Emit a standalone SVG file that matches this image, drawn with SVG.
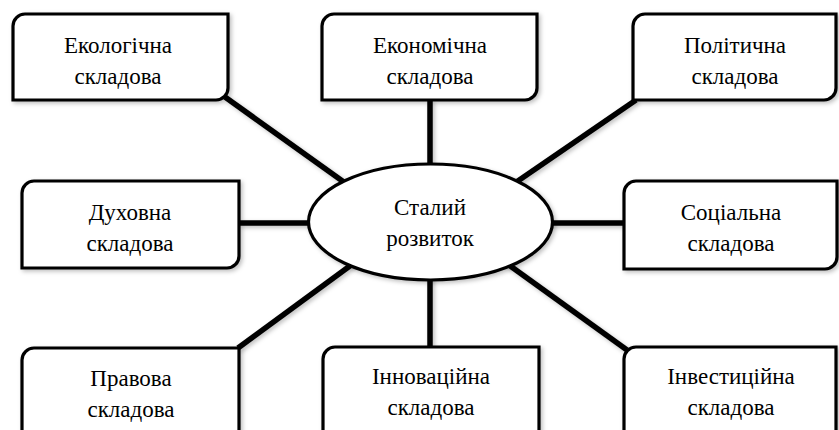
<svg xmlns="http://www.w3.org/2000/svg" width="839" height="430" viewBox="0 0 839 430">
<style>
.box{fill:#fff;stroke:#000;stroke-width:3.2;filter:url(#sh)}
.ell{fill:#fff;stroke:#000;stroke-width:3.2;filter:url(#sh)}
.ln{stroke:#000;stroke-width:5.5;fill:none}
.t{font-family:'Liberation Serif','Times New Roman',serif;font-size:23px;fill:#000;text-anchor:middle}
</style>
<defs>
<filter id="sh" x="-20%" y="-20%" width="140%" height="140%">
<feDropShadow dx="2" dy="2" stdDeviation="2" flood-color="#000" flood-opacity="0.25"/>
</filter>
</defs>
<rect width="839" height="430" fill="#fff"/>
<g id="connectors" filter="url(#sh)">
<line class="ln" x1="225" y1="97" x2="348" y2="185"/>
<line class="ln" x1="430" y1="100" x2="430" y2="170"/>
<line class="ln" x1="636" y1="100" x2="512" y2="185"/>
<line class="ln" x1="239" y1="223" x2="315" y2="223"/>
<line class="ln" x1="546" y1="223" x2="624" y2="223"/>
<line class="ln" x1="238" y1="348" x2="358" y2="260"/>
<line class="ln" x1="430" y1="274" x2="430" y2="347"/>
<line class="ln" x1="627" y1="350" x2="502" y2="260"/>
</g>
<g id="center">
<ellipse class="ell" cx="430.5" cy="222" rx="122" ry="58"/>
<text class="t" x="430" y="215">Сталий</text>
<text class="t" x="430" y="246">розвиток</text>
</g>
<g id="n1">
<path class="box" d="M25,14 H228 V88 A12,12 0 0 1 216,100 H13 V26 A12,12 0 0 1 25,14 Z"/>
<text class="t" x="118" y="53">Екологічна</text>
<text class="t" x="118" y="84">складова</text>
</g>
<g id="n2">
<path class="box" d="M334,14 H537 V88 A12,12 0 0 1 525,100 H322 V26 A12,12 0 0 1 334,14 Z"/>
<text class="t" x="430" y="53">Економічна</text>
<text class="t" x="430" y="84">складова</text>
</g>
<g id="n3">
<path class="box" d="M645,14 H836 V88 A12,12 0 0 1 824,100 H633 V26 A12,12 0 0 1 645,14 Z"/>
<text class="t" x="735" y="53">Політична</text>
<text class="t" x="735" y="84">складова</text>
</g>
<g id="n4">
<path class="box" d="M34,181 H239 V256 A12,12 0 0 1 227,268 H22 V193 A12,12 0 0 1 34,181 Z"/>
<text class="t" x="130" y="220">Духовна</text>
<text class="t" x="130" y="251">складова</text>
</g>
<g id="n5">
<path class="box" d="M636,181 H837 V257 A12,12 0 0 1 825,269 H624 V193 A12,12 0 0 1 636,181 Z"/>
<text class="t" x="731" y="220">Соціальна</text>
<text class="t" x="731" y="251">складова</text>
</g>
<g id="n6">
<path class="box" d="M34,348 H239 V436 A12,12 0 0 1 227,448 H22 V360 A12,12 0 0 1 34,348 Z"/>
<text class="t" x="131" y="386">Правова</text>
<text class="t" x="131" y="417">складова</text>
</g>
<g id="n7">
<path class="box" d="M335,347 H539 V436 A12,12 0 0 1 527,448 H323 V359 A12,12 0 0 1 335,347 Z"/>
<text class="t" x="431" y="384">Інноваційна</text>
<text class="t" x="431" y="415">складова</text>
</g>
<g id="n8">
<path class="box" d="M636,347 H836 V436 A12,12 0 0 1 824,448 H624 V359 A12,12 0 0 1 636,347 Z"/>
<text class="t" x="731" y="384">Інвестиційна</text>
<text class="t" x="731" y="415">складова</text>
</g>
</svg>
